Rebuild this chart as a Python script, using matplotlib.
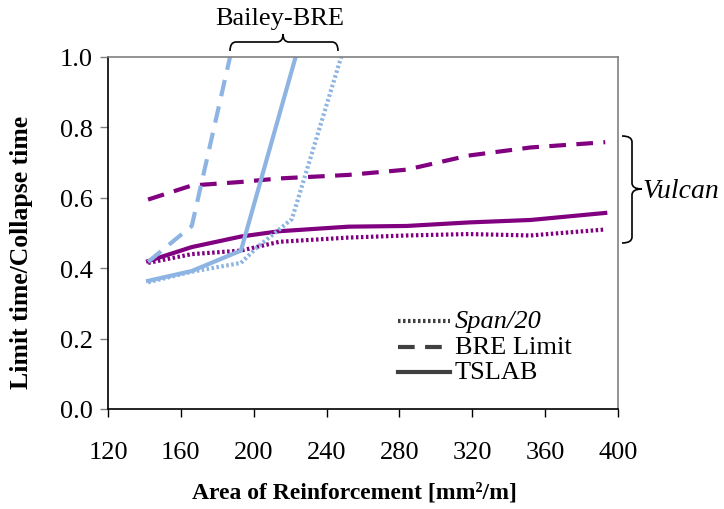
import matplotlib
matplotlib.use("Agg")
import matplotlib.pyplot as plt
from matplotlib.path import Path
from matplotlib.patches import PathPatch

# ---- data ----
vul_x = [142, 166, 193, 214, 252, 284, 318, 352, 393]
vul_tslab = [0.42, 0.46, 0.49, 0.505, 0.518, 0.52, 0.53, 0.537, 0.557]
vul_bre = [0.595, 0.635, 0.645, 0.655, 0.665, 0.68, 0.72, 0.743, 0.758]
vul_span = [0.415, 0.44, 0.45, 0.475, 0.487, 0.493, 0.497, 0.493, 0.51]

bai_tslab_x = [142, 166, 193, 223]
bai_tslab = [0.364, 0.392, 0.45, 1.0]
bai_bre_x = [142, 166, 187]
bai_bre = [0.418, 0.52, 1.0]
bai_span_x = [142, 166, 193, 202, 214, 221, 248]
bai_span = [0.36, 0.39, 0.415, 0.46, 0.51, 0.54, 1.0]

xticks = [120, 160, 200, 240, 280, 320, 360, 400]
yticks = [0.0, 0.2, 0.4, 0.6, 0.8, 1.0]

purple = "#800080"
blue = "#8DB4E2"
serif = ["Liberation Serif", "DejaVu Serif"]

fig = plt.figure(figsize=(7.24, 5.10), dpi=100)
ax = fig.add_axes([108/724, 1-410/510, (618-108)/724, (410-58)/510])

lw = 3.0
ax.plot(vul_x, vul_span, color=purple, lw=lw, linestyle=(0, (0.6, 0.6)))
ax.plot(vul_x, vul_bre, color=purple, lw=lw, linestyle=(0, (4, 2.5)))
ax.plot(vul_x, vul_tslab, color=purple, lw=lw)
ax.plot(bai_span_x, bai_span, color=blue, lw=lw, linestyle=(0, (0.6, 0.6)))
ax.plot(bai_bre_x, bai_bre, color=blue, lw=lw, linestyle=(0, (4, 2.5)))
ax.plot(bai_tslab_x, bai_tslab, color=blue, lw=lw)

ax.set_xlim(120, 400)
ax.set_ylim(0, 1.0)
ax.set_xticks(xticks)
ax.set_yticks(yticks)
ax.set_xticklabels([str(v) for v in xticks], fontfamily=serif, fontsize=19)
ax.set_yticklabels([f"{v:.1f}" for v in yticks], fontfamily=serif, fontsize=19)
ax.tick_params(axis="x", direction="out", length=6, width=1, pad=17, colors="black")
ax.tick_params(axis="y", direction="out", length=6, width=1, pad=5, color="#808080", labelcolor="black")
for s in ["top", "right"]:
    ax.spines[s].set_color("#808080")
    ax.spines[s].set_linewidth(1.2)
for s in ["left", "bottom"]:
    ax.spines[s].set_color("black")
    ax.spines[s].set_linewidth(1.2)

ax.set_ylabel("Limit time/Collapse time", fontfamily=serif, fontweight="bold", fontsize=18.5)
ax.yaxis.set_label_coords(-0.147, 0.449)
ax.set_xlabel("Area of Reinforcement [mm²/m]", fontfamily=serif, fontweight="bold", fontsize=17)
ax.xaxis.set_label_coords(0.484, -0.205)

# legend and annotations drawn in a figure-pixel overlay
ov = fig.add_axes([0, 0, 1, 1], facecolor="none")
ov.set_xlim(0, 724)
ov.set_ylim(510, 0)
ov.axis("off")

leg_col = "#404040"
leg_labels = ["Span/20", "BRE Limit", "TSLAB"]
leg_styles = [(0, (0.6, 0.6)), (0, (4, 2.5)), "-"]
leg_y = [322, 348, 373]
for lab, ls, yy in zip(leg_labels, leg_styles, leg_y):
    ov.plot([398, 450], [yy, yy], color=leg_col, lw=3, linestyle=ls)
    ov.text(455, yy, lab, fontfamily=serif, fontsize=19, va="center", ha="left",
            fontstyle="italic" if lab == "Span/20" else "normal")

def hbrace(x0, x1, xm, yb, yl, yt, r=6):
    verts = [(x0, yb), (x0, yl), (x0 + r, yl), (xm - r, yl), (xm, yl), (xm, yt),
             (xm, yl), (xm + r, yl), (x1 - r, yl), (x1, yl), (x1, yb)]
    codes = [Path.MOVETO, Path.CURVE3, Path.CURVE3, Path.LINETO, Path.CURVE3, Path.CURVE3,
             Path.CURVE3, Path.CURVE3, Path.LINETO, Path.CURVE3, Path.CURVE3]
    ov.add_patch(PathPatch(Path(verts, codes), fill=False, color="black", lw=1.2))

def vbrace(y0, y1, ym, xb, xl, xt, r=6):
    verts = [(xb, y0), (xl, y0), (xl, y0 + r), (xl, ym - r), (xl, ym), (xt, ym),
             (xl, ym), (xl, ym + r), (xl, y1 - r), (xl, y1), (xb, y1)]
    codes = [Path.MOVETO, Path.CURVE3, Path.CURVE3, Path.LINETO, Path.CURVE3, Path.CURVE3,
             Path.CURVE3, Path.CURVE3, Path.LINETO, Path.CURVE3, Path.CURVE3]
    ov.add_patch(PathPatch(Path(verts, codes), fill=False, color="black", lw=1.2))

hbrace(230, 338, 283, 52, 43, 35)
vbrace(137, 244, 190, 622, 632, 642)

ov.text(280, 19, "Bailey-BRE", fontfamily=serif, fontsize=19, ha="center", va="center")
ov.text(643, 192, "Vulcan", fontfamily=serif, fontsize=20, fontstyle="italic", ha="left", va="center")

fig.savefig("out.png", dpi=100)
